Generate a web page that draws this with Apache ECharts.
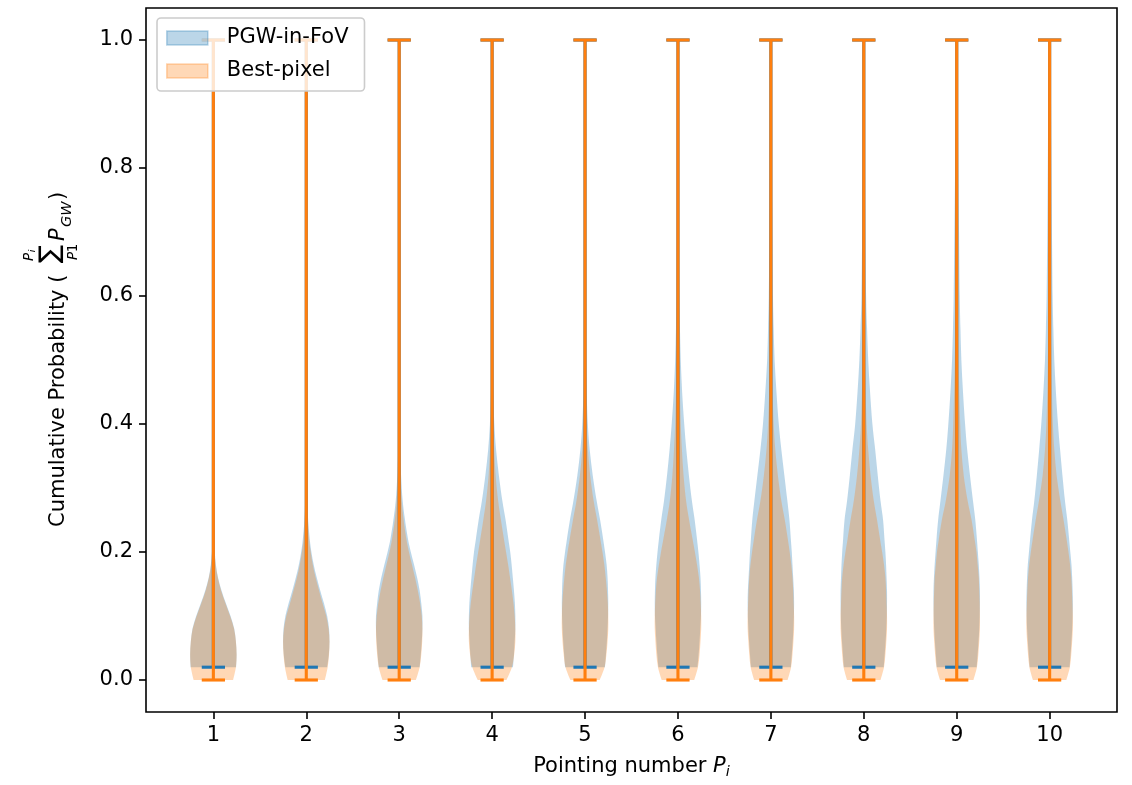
<!DOCTYPE html>
<html><head><meta charset="utf-8">
<script src="https://cdn.jsdelivr.net/npm/echarts@6/dist/echarts.min.js"></script>
<style>html,body{margin:0;padding:0;background:#fff}#c{width:1132px;height:785px}</style>
</head><body><div id="c"></div>
<script>
// ---------------- data ----------------
const positions = [1, 2, 3, 4, 5, 6, 7, 8, 9, 10];
const xTickLabels = ['1', '2', '3', '4', '5', '6', '7', '8', '9', '10'];
const yTicks = [0, 0.2, 0.4, 0.6, 0.8, 1.0];
const seriesNames = ['PGW-in-FoV', 'Best-pixel'];

// sample heights at which the violin half-widths (relative to the widest point) are read
const yGrid = [0, 0.02, 0.04, 0.06, 0.08, 0.10, 0.12, 0.14, 0.16, 0.18, 0.20, 0.22, 0.25,
               0.28, 0.32, 0.36, 0.40, 0.45, 0.50, 0.55, 0.60, 0.70, 0.80, 0.90, 1.00];

const pgwMin = [0.02, 0.02, 0.02, 0.02, 0.02, 0.02, 0.02, 0.02, 0.02, 0.02];
const pgwMax = [1.0, 1.0, 1.0, 1.0, 1.0, 1.0, 1.0, 1.0, 1.0, 1.0];
const bestMin = [0, 0, 0, 0, 0, 0, 0, 0, 0, 0];
const bestMax = [1.0, 1.0, 1.0, 1.0, 1.0, 1.0, 1.0, 1.0, 1.0, 1.0];

const pgwWidth = [
  [null, 0.98, 1.0, 0.97, 0.9, 0.74, 0.54, 0.35, 0.2, 0.11, 0.06, 0.035, 0.02, 0.015, 0.012, 0.01, 0.01, 0.009, 0.008, 0.008, 0.008, 0.007, 0.007, 0.006, 0.006],
  [null, 0.9, 0.97, 1.0, 0.98, 0.9, 0.76, 0.6, 0.45, 0.32, 0.22, 0.15, 0.08, 0.05, 0.03, 0.02, 0.016, 0.013, 0.012, 0.011, 0.01, 0.009, 0.008, 0.008, 0.007],
  [null, 0.88, 0.93, 0.97, 1.0, 1.0, 0.95, 0.88, 0.77, 0.64, 0.5, 0.38, 0.25, 0.15, 0.08, 0.045, 0.028, 0.02, 0.016, 0.014, 0.012, 0.011, 0.01, 0.009, 0.008],
  [null, 0.9, 0.94, 0.97, 1.0, 1.0, 0.98, 0.94, 0.89, 0.84, 0.78, 0.7, 0.58, 0.44, 0.29, 0.17, 0.095, 0.05, 0.032, 0.022, 0.017, 0.013, 0.011, 0.01, 0.009],
  [null, 0.86, 0.9, 0.94, 0.97, 0.99, 1.0, 0.99, 0.97, 0.93, 0.86, 0.78, 0.65, 0.5, 0.33, 0.2, 0.12, 0.07, 0.045, 0.032, 0.025, 0.018, 0.014, 0.012, 0.01],
  [null, 0.84, 0.89, 0.93, 0.96, 0.99, 1.0, 0.99, 0.97, 0.93, 0.88, 0.82, 0.72, 0.6, 0.47, 0.36, 0.27, 0.18, 0.12, 0.085, 0.06, 0.038, 0.026, 0.02, 0.015],
  [null, 0.86, 0.9, 0.94, 0.97, 0.99, 1.0, 0.99, 0.96, 0.93, 0.9, 0.86, 0.8, 0.71, 0.58, 0.45, 0.34, 0.24, 0.16, 0.12, 0.09, 0.06, 0.04, 0.03, 0.02],
  [null, 0.86, 0.9, 0.94, 0.97, 0.99, 1.0, 1.0, 0.98, 0.96, 0.93, 0.89, 0.83, 0.72, 0.6, 0.49, 0.37, 0.27, 0.19, 0.14, 0.1, 0.07, 0.05, 0.035, 0.025],
  [null, 0.86, 0.9, 0.94, 0.97, 0.99, 1.0, 1.0, 0.98, 0.95, 0.91, 0.87, 0.8, 0.7, 0.57, 0.45, 0.36, 0.27, 0.2, 0.16, 0.13, 0.1, 0.07, 0.05, 0.03],
  [null, 0.86, 0.9, 0.94, 0.97, 0.99, 1.0, 0.99, 0.97, 0.94, 0.89, 0.84, 0.76, 0.66, 0.55, 0.45, 0.36, 0.27, 0.2, 0.16, 0.13, 0.1, 0.08, 0.06, 0.04]
];

const bestWidth = [
  [0.85, 0.97, 1.0, 0.97, 0.89, 0.72, 0.52, 0.33, 0.19, 0.1, 0.055, 0.03, 0.018, 0.013, 0.01, 0.009, 0.008, 0.008, 0.007, 0.007, 0.007, 0.006, 0.006, 0.006, 0.006],
  [0.8, 0.92, 0.98, 1.0, 0.96, 0.86, 0.7, 0.55, 0.4, 0.28, 0.19, 0.12, 0.07, 0.04, 0.025, 0.017, 0.013, 0.011, 0.01, 0.009, 0.009, 0.008, 0.007, 0.007, 0.006],
  [0.72, 0.88, 0.95, 0.99, 1.0, 0.97, 0.9, 0.8, 0.68, 0.55, 0.42, 0.31, 0.19, 0.11, 0.055, 0.03, 0.02, 0.015, 0.012, 0.011, 0.01, 0.009, 0.008, 0.008, 0.007],
  [0.62, 0.85, 0.95, 1.0, 1.0, 0.97, 0.92, 0.85, 0.77, 0.69, 0.6, 0.51, 0.38, 0.26, 0.15, 0.09, 0.055, 0.03, 0.02, 0.015, 0.012, 0.01, 0.009, 0.008, 0.008],
  [0.63, 0.84, 0.92, 0.97, 1.0, 1.0, 0.98, 0.94, 0.89, 0.83, 0.75, 0.66, 0.52, 0.37, 0.22, 0.12, 0.07, 0.04, 0.025, 0.018, 0.014, 0.011, 0.01, 0.009, 0.008],
  [0.7, 0.86, 0.93, 0.97, 1.0, 1.0, 0.98, 0.95, 0.9, 0.82, 0.73, 0.63, 0.48, 0.35, 0.24, 0.17, 0.12, 0.085, 0.06, 0.04, 0.03, 0.02, 0.015, 0.012, 0.01],
  [0.72, 0.87, 0.93, 0.97, 1.0, 1.0, 0.98, 0.96, 0.93, 0.88, 0.81, 0.73, 0.6, 0.45, 0.3, 0.19, 0.12, 0.075, 0.05, 0.035, 0.025, 0.018, 0.014, 0.012, 0.01],
  [0.72, 0.87, 0.93, 0.97, 1.0, 1.0, 0.98, 0.96, 0.93, 0.87, 0.79, 0.7, 0.57, 0.43, 0.29, 0.19, 0.12, 0.08, 0.055, 0.04, 0.03, 0.02, 0.015, 0.012, 0.01],
  [0.72, 0.87, 0.93, 0.97, 1.0, 1.0, 0.99, 0.97, 0.95, 0.9, 0.85, 0.77, 0.64, 0.47, 0.3, 0.2, 0.15, 0.11, 0.08, 0.06, 0.045, 0.03, 0.02, 0.015, 0.012],
  [0.72, 0.87, 0.93, 0.97, 1.0, 1.0, 0.98, 0.96, 0.93, 0.88, 0.81, 0.73, 0.6, 0.46, 0.3, 0.2, 0.14, 0.1, 0.075, 0.055, 0.042, 0.03, 0.022, 0.016, 0.012]
];

// ---------------- style ----------------
const FONT = '"DejaVu Sans", "Liberation Sans", sans-serif';
const FS = 21;
const HALF_WIDTH = 0.25;   // violin half width (data units) at the widest point
const CAP = 0.125;         // half length of min / max bars
const LW = 3.1;
const BLUE = '#1f77b4', BLUE_A = 'rgba(31,119,180,0.3)';
const ORANGE = '#ff7f0e', ORANGE_A = 'rgba(255,127,14,0.3)';

// smooth curve (Catmull-Rom rendered as cubic Bezier) through screen points
function curveThrough(pts) {
  let d = '';
  for (let k = 0; k < pts.length - 1; k++) {
    const p0 = pts[Math.max(k - 1, 0)], p1 = pts[k], p2 = pts[k + 1], p3 = pts[Math.min(k + 2, pts.length - 1)];
    const c1x = p1[0] + (p2[0] - p0[0]) / 6, c1y = p1[1] + (p2[1] - p0[1]) / 6;
    const c2x = p2[0] - (p3[0] - p1[0]) / 6, c2y = p2[1] - (p3[1] - p1[1]) / 6;
    d += ' C' + c1x.toFixed(2) + ' ' + c1y.toFixed(2) + ' ' + c2x.toFixed(2) + ' ' + c2y.toFixed(2) + ' ' + p2[0].toFixed(2) + ' ' + p2[1].toFixed(2);
  }
  return d;
}

function bodyRenderer(widths, fillColor, z2) {
  return function (params, api) {
    const i = params.dataIndex;
    const p = api.value(0), lo = api.value(1), hi = api.value(2);
    const w = widths[i];
    const right = [], left = [];
    for (let k = 0; k < yGrid.length; k++) {
      if (w[k] == null || yGrid[k] < lo - 1e-9 || yGrid[k] > hi + 1e-9) continue;
      right.push(api.coord([p + w[k] * HALF_WIDTH, yGrid[k]]));
      left.push(api.coord([p - w[k] * HALF_WIDTH, yGrid[k]]));
    }
    left.reverse();
    const d = 'M' + right[0][0].toFixed(2) + ' ' + right[0][1].toFixed(2) + curveThrough(right) +
      ' L' + left[0][0].toFixed(2) + ' ' + left[0][1].toFixed(2) + curveThrough(left) + ' Z';
    return {
      type: 'path', z2: z2,
      shape: { pathData: d },
      style: { fill: fillColor, lineWidth: 0 }
    };
  };
}

function lineRenderer(lineColor, z2) {
  return function (params, api) {
    const p = api.value(0), lo = api.value(1), hi = api.value(2);
    const c = (x, y) => api.coord([x, y]);
    const ln = (a, b) => ({
      type: 'line', z2: z2,
      shape: { x1: a[0], y1: a[1], x2: b[0], y2: b[1] },
      style: { stroke: lineColor, lineWidth: LW, lineCap: 'butt' }
    });
    return {
      type: 'group',
      children: [
        ln(c(p, lo), c(p, hi)),
        ln(c(p - CAP, lo), c(p + CAP, lo)),
        ln(c(p - CAP, hi), c(p + CAP, hi))
      ]
    };
  };
}

const chart = echarts.init(document.getElementById('c'), null, { renderer: 'canvas' });

function T(x, y, text, font, align) {
  return { type: 'text', x: x, y: y, style: { text: text, font: font, fill: '#000',
    textAlign: align, align: align, textVerticalAlign: 'middle', verticalAlign: 'middle' } };
}
const yTitle = {
  type: 'group', x: 59, y: 360, rotation: Math.PI / 2, silent: true,
  children: [
    T(-167, 0, 'Cumulative Probability (', FS + 'px ' + FONT, 'left'),
    T(106, -8, '\u2211', '27px ' + FONT, 'center'),
    T(103, -30, 'P', 'italic 13.5px ' + FONT, 'center'),
    T(109, -26, 'i', 'italic 9.5px ' + FONT, 'center'),
    T(104, 14, 'P', 'italic 13.5px ' + FONT, 'center'),
    T(112, 14, '1', '13.5px ' + FONT, 'center'),
    T(119, 0, 'P', 'italic ' + FS + 'px ' + FONT, 'left'),
    T(133, 8, 'GW', 'italic 14.5px ' + FONT, 'left'),
    T(160, 0, ')', FS + 'px ' + FONT, 'left')
  ]
};

function customSeries(name, mins, maxs, renderItem) {
  return {
    type: 'custom', name: name, z: 2,
    encode: { x: 0, y: [1, 2] },
    data: positions.map((p, i) => [p, mins[i], maxs[i]]),
    renderItem: renderItem
  };
}

const option = {
  animation: false,
  backgroundColor: '#fff',
  textStyle: { fontFamily: FONT },
  grid: { left: 146, top: 8, right: 15, bottom: 73, show: true, borderColor: '#000', borderWidth: 1.6, backgroundColor: 'transparent' },
  xAxis: {
    type: 'value', min: 0.275, max: 10.725,
    axisLine: { show: false, onZero: false },
    splitLine: { show: false },
    axisTick: { show: true, length: 7, inside: false, customValues: positions, lineStyle: { color: '#000', width: 1.6 } },
    axisLabel: { customValues: positions, margin: 13, color: '#000', fontSize: FS, fontFamily: FONT,
      formatter: v => xTickLabels[positions.indexOf(Math.round(v))] },
    name: '{t|Pointing number }{p|P}{s|i}',
    nameLocation: 'middle', nameGap: 42,
    nameTextStyle: {
      color: '#000', fontSize: FS, fontFamily: FONT,
      rich: {
        t: { fontSize: FS, fontFamily: FONT, color: '#000', lineHeight: 26, verticalAlign: 'middle' },
        p: { fontSize: FS, fontFamily: FONT, color: '#000', fontStyle: 'italic', lineHeight: 26, verticalAlign: 'middle' },
        s: { fontSize: 14.5, fontFamily: FONT, color: '#000', fontStyle: 'italic', lineHeight: 12, verticalAlign: 'bottom' }
      }
    }
  },
  yAxis: {
    type: 'value', min: -0.05, max: 1.05,
    axisLine: { show: false, onZero: false },
    splitLine: { show: false },
    axisTick: { show: true, length: 7, inside: false, customValues: yTicks, lineStyle: { color: '#000', width: 1.6 } },
    axisLabel: { customValues: yTicks, margin: 13, color: '#000', fontSize: FS, fontFamily: FONT,
      formatter: v => v.toFixed(1) }
  },
  legend: {
    left: 157, top: 18, orient: 'vertical', z: 10,
    itemWidth: 41, itemHeight: 14, itemGap: 9,
    padding: [8, 16, 8, 9],
    backgroundColor: 'rgba(255,255,255,0.8)', borderColor: '#cccccc', borderWidth: 1.6, borderRadius: 4,
    selectedMode: false,
    textStyle: { fontFamily: FONT, fontSize: FS, color: '#000', lineHeight: 24, padding: [0, 0, 0, 14] },
    data: [
      { name: seriesNames[0], icon: 'rect', itemStyle: { color: BLUE_A, borderColor: BLUE_A, borderWidth: 1.6 } },
      { name: seriesNames[1], icon: 'rect', itemStyle: { color: ORANGE_A, borderColor: ORANGE_A, borderWidth: 1.6 } }
    ]
  },
  graphic: [yTitle],
  series: [
    customSeries(seriesNames[0], pgwMin, pgwMax, bodyRenderer(pgwWidth, BLUE_A, 1)),
    customSeries(seriesNames[1], bestMin, bestMax, bodyRenderer(bestWidth, ORANGE_A, 2)),
    customSeries(seriesNames[0], pgwMin, pgwMax, lineRenderer(BLUE, 3)),
    customSeries(seriesNames[1], bestMin, bestMax, lineRenderer(ORANGE, 4))
  ]
};
chart.setOption(option);
</script></body></html>
